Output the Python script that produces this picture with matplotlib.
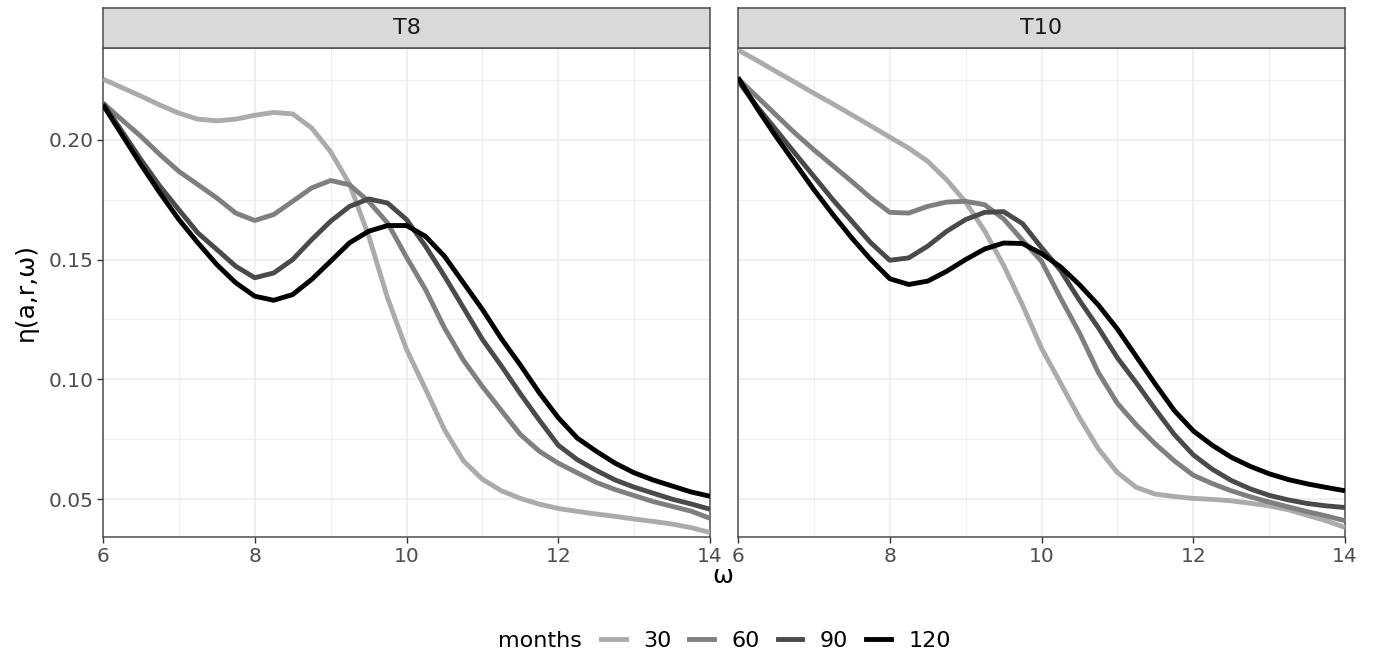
import matplotlib
matplotlib.use("Agg")
import matplotlib.pyplot as plt
from matplotlib.lines import Line2D

# omega grid
omega = [6.0, 6.25, 6.5, 6.75, 7.0, 7.25, 7.5, 7.75, 8.0, 8.25, 8.5, 8.75,
         9.0, 9.25, 9.5, 9.75, 10.0, 10.25, 10.5, 10.75, 11.0, 11.25, 11.5, 11.75,
         12.0, 12.25, 12.5, 12.75, 13.0, 13.25, 13.5, 13.75, 14.0]

# panel T8
t8_30 = [0.2253, 0.2218, 0.2182, 0.2145, 0.2111, 0.2086, 0.2079, 0.2086, 0.2102, 0.2114, 0.2108, 0.2049,
         0.1950, 0.1815, 0.1600, 0.1340, 0.1125, 0.0960, 0.0790, 0.0660, 0.0583, 0.0535, 0.0503, 0.0479,
         0.0461, 0.0449, 0.0438, 0.0428, 0.0417, 0.0407, 0.0396, 0.0381, 0.0361]
t8_60 = [0.2153, 0.2083, 0.2014, 0.1938, 0.1868, 0.1813, 0.1757, 0.1694, 0.1663, 0.1688, 0.1743, 0.1799,
         0.1830, 0.1812, 0.1743, 0.1653, 0.1510, 0.1375, 0.1215, 0.1080, 0.0970, 0.0870, 0.0770, 0.0700,
         0.0650, 0.0610, 0.0570, 0.0540, 0.0515, 0.0490, 0.0470, 0.0450, 0.0420]
t8_90 = [0.2153, 0.2035, 0.1917, 0.1806, 0.1708, 0.1611, 0.1542, 0.1472, 0.1424, 0.1444, 0.1500, 0.1583,
         0.1660, 0.1722, 0.1753, 0.1736, 0.1667, 0.1556, 0.1431, 0.1299, 0.1167, 0.1056, 0.0940, 0.0830,
         0.0725, 0.0665, 0.0620, 0.0580, 0.0550, 0.0525, 0.0500, 0.0480, 0.0458]
t8_120 = [0.2146, 0.2021, 0.1896, 0.1778, 0.1667, 0.1570, 0.1479, 0.1403, 0.1347, 0.1330, 0.1354, 0.1417,
          0.1493, 0.1570, 0.1618, 0.1642, 0.1642, 0.1597, 0.1514, 0.1403, 0.1292, 0.1170, 0.1060, 0.0944,
          0.0840, 0.0755, 0.0700, 0.0650, 0.0610, 0.0580, 0.0555, 0.0530, 0.0512]

# panel T10
t10_30 = [0.2375, 0.2331, 0.2285, 0.2240, 0.2194, 0.2150, 0.2104, 0.2058, 0.2011, 0.1965, 0.1910, 0.1833,
          0.1740, 0.1620, 0.1476, 0.1310, 0.1130, 0.0985, 0.0840, 0.0710, 0.0611, 0.0549, 0.0521, 0.0511,
          0.0503, 0.0499, 0.0493, 0.0483, 0.0472, 0.0456, 0.0433, 0.0410, 0.0382]
t10_60 = [0.2255, 0.2180, 0.2104, 0.2028, 0.1958, 0.1892, 0.1826, 0.1757, 0.1697, 0.1694, 0.1722, 0.1740,
          0.1743, 0.1729, 0.1670, 0.1580, 0.1493, 0.1340, 0.1194, 0.1028, 0.0900, 0.0810, 0.0730, 0.0660,
          0.0600, 0.0565, 0.0535, 0.0510, 0.0488, 0.0468, 0.0448, 0.0430, 0.0410]
t10_90 = [0.2245, 0.2139, 0.2042, 0.1944, 0.1847, 0.1750, 0.1660, 0.1570, 0.1497, 0.1507, 0.1556, 0.1618,
          0.1667, 0.1697, 0.1700, 0.1650, 0.1550, 0.1455, 0.1330, 0.1215, 0.1090, 0.0985, 0.0875, 0.0770,
          0.0685, 0.0625, 0.0578, 0.0543, 0.0516, 0.0497, 0.0482, 0.0472, 0.0465]
t10_120 = [0.2260, 0.2132, 0.2014, 0.1903, 0.1792, 0.1688, 0.1590, 0.1500, 0.1420, 0.1396, 0.1410, 0.1451,
           0.1500, 0.1544, 0.1569, 0.1567, 0.1525, 0.1470, 0.1395, 0.1310, 0.1210, 0.1095, 0.0980, 0.0870,
           0.0785, 0.0725, 0.0675, 0.0637, 0.0606, 0.0582, 0.0564, 0.0549, 0.0535]

months = ["30", "60", "90", "120"]
colors = ["#ababab", "#7f7f7f", "#4a4a4a", "#000000"]
panels = [("T8", [t8_30, t8_60, t8_90, t8_120]),
          ("T10", [t10_30, t10_60, t10_90, t10_120])]

W, H = 1373, 658
fig = plt.figure(figsize=(W / 100, H / 100), dpi=100)

border = "#4d4d4d"
grid_col = "#ebebeb"

# panel pixel boxes (left edges), top / bottom shared
lefts = [103, 738]
pw = 607
ptop, pbot = 48, 537
stop = 8

for i, (name, series) in enumerate(panels):
    x0 = lefts[i]
    ax = fig.add_axes([x0 / W, 1 - pbot / H, pw / W, (pbot - ptop) / H])
    for vals, c in zip(series, colors):
        ax.plot(omega, vals, color=c, lw=3.5, solid_capstyle="butt", zorder=3)
    ax.set_xlim(6, 14)
    ax.set_ylim(0.0342, 0.2383)
    ax.set_xticks([6, 8, 10, 12, 14])
    ax.set_xticks([7, 9, 11, 13], minor=True)
    ax.set_yticks([0.05, 0.10, 0.15, 0.20])
    ax.set_yticks([0.075, 0.125, 0.175, 0.225], minor=True)
    ax.grid(which="major", color=grid_col, lw=1.1, zorder=0)
    ax.grid(which="minor", color=grid_col, lw=0.6, zorder=0)
    ax.set_axisbelow(True)
    ax.tick_params(which="minor", length=0)
    ax.tick_params(which="major", length=4, width=1, color="#333333",
                   labelsize=14.5, labelcolor="#4d4d4d", pad=3)
    if i == 0:
        ax.set_yticklabels(["0.05", "0.10", "0.15", "0.20"])
    else:
        ax.tick_params(axis="y", left=False, labelleft=False)
    for s in ax.spines.values():
        s.set_color(border)
        s.set_linewidth(1.1)

    # facet strip
    sax = fig.add_axes([x0 / W, 1 - ptop / H, pw / W, (ptop - stop) / H])
    sax.set_facecolor("#d9d9d9")
    sax.set_xticks([])
    sax.set_yticks([])
    for s in sax.spines.values():
        s.set_color(border)
        s.set_linewidth(1.1)
    sax.text(0.5, 0.5, name, ha="center", va="center", fontsize=16,
             color="#1a1a1a", transform=sax.transAxes)

fig.text(26 / W, 1 - 292 / H, "η(a,r,ω)", rotation=90, ha="center", va="center",
         fontsize=18, color="black")
fig.text(723 / W, 1 - 576 / H, "ω", ha="center", va="center", fontsize=18, color="black")

handles = [Line2D([0], [0], color=c, lw=3.5) for c in colors]
fig.text(582 / W, 1 - 641 / H, "months", ha="right", va="center", fontsize=16)
fig.legend(handles, months, loc="center", bbox_to_anchor=(776 / W, 1 - 641 / H),
           ncol=4, frameon=False, fontsize=16, handlelength=1.1, handletextpad=0.8,
           columnspacing=0.8, borderpad=0.1)

fig.savefig("out.png", dpi=100)
